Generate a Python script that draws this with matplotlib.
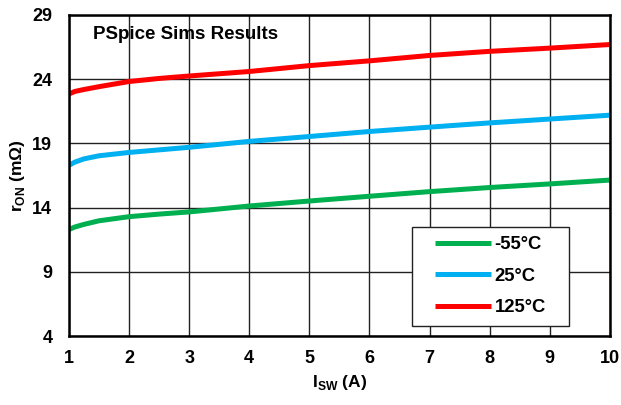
import numpy as np
import matplotlib.pyplot as plt
from matplotlib.patches import Rectangle

plt.rcParams['font.family'] = ['Liberation Sans', 'DejaVu Sans']
plt.rcParams['font.weight'] = 'bold'
plt.rcParams['mathtext.fontset'] = 'custom'
plt.rcParams['mathtext.bf'] = 'Liberation Sans:bold'
plt.rcParams['mathtext.rm'] = 'Liberation Sans:bold'

isw = [1, 1.1, 1.25, 1.5, 2, 2.5, 3, 4, 5, 6, 7, 8, 9, 10]
r_m55 = [12.3, 12.5, 12.7, 12.98, 13.3, 13.5, 13.67, 14.13, 14.52, 14.89, 15.25, 15.57, 15.85, 16.15]
r_25 = [17.3, 17.55, 17.8, 18.04, 18.3, 18.5, 18.7, 19.16, 19.54, 19.93, 20.27, 20.6, 20.9, 21.2]
r_125 = [22.85, 23.05, 23.2, 23.42, 23.82, 24.06, 24.25, 24.6, 25.06, 25.43, 25.85, 26.17, 26.42, 26.7]

labels = ['-55°C', '25°C', '125°C']
colors = ['#00B050', '#00B0F0', '#FF0000']

fig = plt.figure(figsize=(6.21, 4.05), dpi=100)
ax = fig.add_axes([0.111, 0.170, 0.871, 0.793])

for ys, lab, c in zip([r_m55, r_25, r_125], labels, colors):
    ax.plot(isw, ys, color=c, lw=3.6, label=lab, solid_capstyle='butt',
            solid_joinstyle='round')

ax.set_xlim(1, 10)
ax.set_ylim(4, 29)
ax.set_xticks(range(1, 11))
ax.set_yticks([4, 9, 14, 19, 24, 29])
ax.grid(True, color='#222222', lw=1.0)
ax.set_axisbelow(True)
for s in ax.spines.values():
    s.set_linewidth(1.8)
ax.tick_params(length=0, labelsize=13)
ax.tick_params(axis='x', pad=10)
ax.tick_params(axis='y', pad=12)
for t in ax.get_xticklabels() + ax.get_yticklabels():
    t.set_fontweight('bold')

ax.set_xlabel(r'I$_{\mathbf{SW}}$ (A)', fontsize=12.5, fontweight='bold', labelpad=4)
ax.set_ylabel(r'r$_{\mathbf{ON}}$ (m$\mathbf{\Omega}$)', fontsize=12.5, fontweight='bold', labelpad=4)

ax.text(0.044, 0.938, 'PSpice Sims Results', transform=ax.transAxes,
        fontsize=13.5, fontweight='bold', va='center', ha='left')

# legend box
ax.add_patch(Rectangle((0.634, 0.031), 0.290, 0.309, transform=ax.transAxes,
                       facecolor='white', edgecolor='#222222', lw=1.0, zorder=4))
leg = ax.legend(loc='center', bbox_to_anchor=(0.779, 0.187), fontsize=13.3,
                handlelength=3.05, labelspacing=0.78, borderpad=0, borderaxespad=0,
                frameon=False, handletextpad=0.2)
leg.set_zorder(5)
for t in leg.get_texts():
    t.set_fontweight('bold')

fig.savefig('out.png', dpi=100)
